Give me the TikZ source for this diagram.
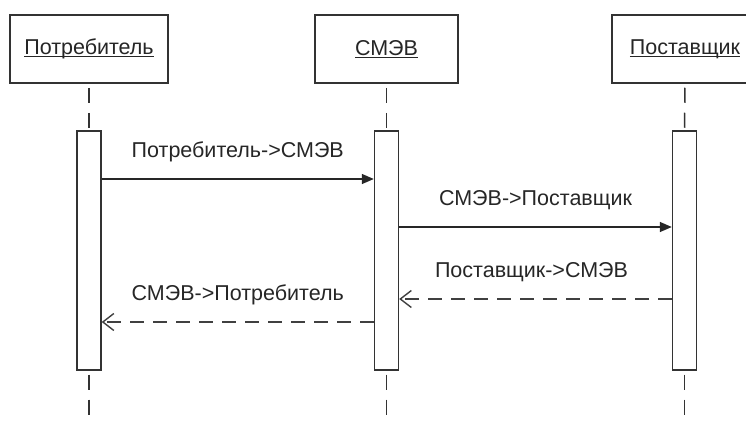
\documentclass[tikz,border=0pt]{standalone}
\usepackage{fontspec}
\setmainfont{Liberation Sans}
\usetikzlibrary{arrows.meta}
\newcommand\myuline[1]{\setbox0\hbox{#1}\leavevmode\rlap{\copy0}\rule[-2.8pt]{\wd0}{1.4pt}}
\begin{document}
\begin{tikzpicture}[x=1pt,y=-1pt,
  actor/.style={draw=black!80,line width=1.5pt,fill=white,minimum height=68pt,inner sep=0pt,font=\fontsize{21.5}{23}\selectfont,text=black!85},
  act/.style={draw=black!80,line width=1.4pt,fill=white,minimum width=24pt,minimum height=239pt,inner sep=0pt},
  life/.style={draw=black!80,line width=1.5pt,dash pattern=on 15pt off 10pt,dash phase=21pt},
  call/.style={draw=black!85,line width=1.4pt,-{Triangle[length=12pt,width=10pt]}},
  reply/.style={draw=black!75,line width=1.4pt,dash pattern=on 14pt off 9pt,-{Straight Barb[length=11pt,width=17pt]}},
  lbl/.style={font=\fontsize{21.5}{23}\selectfont,text=black!85,anchor=base,yshift=22pt,inner sep=0pt}]
\useasboundingbox (0,0) rectangle (746,420);
\begin{scope}
\clip (0,0) rectangle (746,420);
% actors
\node[actor,minimum width=158pt] (a1) at (89,49) {\myuline{Потребитель}};
\node[actor,minimum width=143pt] (a2) at (386.5,49) {\myuline{СМЭВ}};
\node[actor,minimum width=146pt] (a3) at (685,49) {\myuline{Поставщик}};
% activations
\node[act] (x1) at (89,250.5) {};
\node[act] (x2) at (386.5,250.5) {};
\node[act] (x3) at (684.5,250.5) {};
% bottom ends
\coordinate (e1) at (89,425);
\coordinate (e2) at (386.5,425);
\coordinate (e3) at (684.5,425);
\draw[life] (a1.south) -- (x1.north);
\draw[life] (a2.south) -- (x2.north);
\draw[life] (a3.south) -- (x3.north);
\draw[life] (x1.south) -- (e1);
\draw[life] (x2.south) -- (e2);
\draw[life] (x3.south) -- (e3);
% message rows
\coordinate (r1) at (0,179);
\coordinate (r2) at (0,227);
\coordinate (r3) at (0,299);
\coordinate (r4) at (0,322);
\draw[call] (x1.east |- r1) -- node[lbl] {Потребитель->СМЭВ} (x2.west |- r1);
\draw[call] (x2.east |- r2) -- node[lbl] {СМЭВ->Поставщик} (x3.west |- r2);
\draw[reply] (x3.west |- r3) -- node[lbl,xshift=-4pt] {Поставщик->СМЭВ} (x2.east |- r3);
\draw[reply] (x2.west |- r4) -- node[lbl] {СМЭВ->Потребитель} (x1.east |- r4);
\end{scope}
\end{tikzpicture}
\end{document}
